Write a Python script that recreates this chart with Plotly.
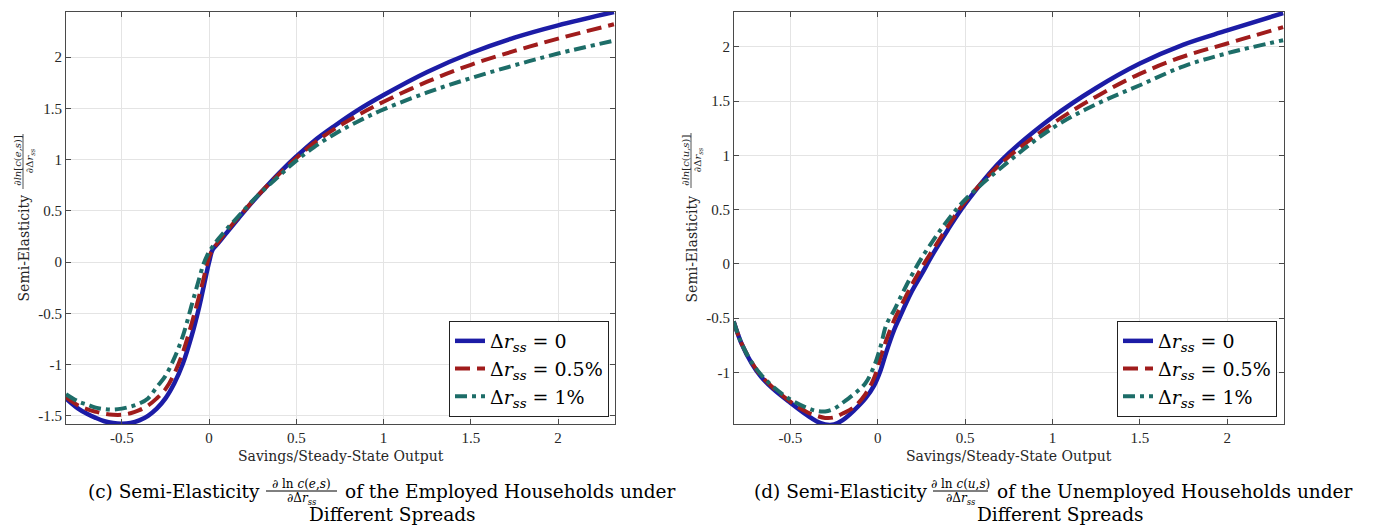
import plotly.graph_objects as go

W, H = 1373, 525

# ---------------- data: panel (c) employed ----------------
x_emp = [-0.82, -0.75, -0.70, -0.65, -0.60, -0.55, -0.50, -0.45, -0.40, -0.35,
         -0.30, -0.25, -0.20, -0.15, -0.10, -0.06, -0.03, 0.0, 0.02, 0.05,
         0.10, 0.17, 0.25, 0.33, 0.42, 0.50, 0.60, 0.72, 0.85, 1.00, 1.25,
         1.50, 1.75, 2.00, 2.32]
emp_r0 = [-1.33, -1.43, -1.48, -1.52, -1.553, -1.571, -1.577, -1.57, -1.545, -1.50,
          -1.43, -1.33, -1.185, -0.99, -0.72, -0.46, -0.23, 0.0, 0.12, 0.18,
          0.285, 0.43, 0.59, 0.74, 0.90, 1.03, 1.18, 1.33, 1.48, 1.63, 1.855,
          2.04, 2.19, 2.31, 2.44]
emp_r05 = [-1.32, -1.40, -1.435, -1.46, -1.48, -1.49, -1.49, -1.475, -1.445, -1.40,
           -1.33, -1.24, -1.09, -0.88, -0.60, -0.35, -0.15, 0.05, 0.12, 0.19,
           0.30, 0.44, 0.595, 0.74, 0.89, 1.015, 1.16, 1.30, 1.43, 1.565, 1.76,
           1.925, 2.06, 2.18, 2.32]
emp_r1 = [-1.29, -1.36, -1.39, -1.42, -1.435, -1.44, -1.43, -1.41, -1.38, -1.33,
          -1.22, -1.11, -0.94, -0.72, -0.42, -0.18, -0.01, 0.10, 0.15, 0.22,
          0.32, 0.45, 0.60, 0.73, 0.87, 0.99, 1.12, 1.25, 1.37, 1.49, 1.655,
          1.795, 1.92, 2.035, 2.16]

# ---------------- data: panel (d) unemployed ----------------
x_une = [-0.824, -0.78, -0.72, -0.668, -0.60, -0.50, -0.40, -0.35, -0.30, -0.25,
         -0.20, -0.135, -0.07, -0.02, 0.017, 0.05, 0.094, 0.124, 0.19, 0.25,
         0.32, 0.40, 0.50, 0.71, 1.00, 1.25, 1.50, 1.75, 2.00, 2.32]
une_r0 = [-0.53, -0.73, -0.92, -1.04, -1.15, -1.28, -1.40, -1.45, -1.48, -1.48,
          -1.44, -1.35, -1.24, -1.12, -0.98, -0.81, -0.61, -0.50, -0.27, -0.10,
          0.10, 0.31, 0.55, 0.955, 1.35, 1.62, 1.845, 2.02, 2.15, 2.31]
une_r05 = [-0.53, -0.73, -0.91, -1.03, -1.14, -1.27, -1.37, -1.40, -1.42, -1.415,
           -1.38, -1.32, -1.20, -1.05, -0.86, -0.70, -0.52, -0.42, -0.21, -0.04,
           0.14, 0.34, 0.57, 0.93, 1.29, 1.54, 1.75, 1.91, 2.03, 2.18]
une_r1 = [-0.53, -0.73, -0.91, -1.02, -1.13, -1.25, -1.33, -1.355, -1.36, -1.335,
          -1.28, -1.20, -1.10, -0.94, -0.76, -0.56, -0.43, -0.33, -0.12, 0.05,
          0.22, 0.40, 0.59, 0.89, 1.25, 1.47, 1.645, 1.82, 1.94, 2.06]

series_names = ["Δ<i>r</i><sub><i>ss</i></sub> = 0",
                "Δ<i>r</i><sub><i>ss</i></sub> = 0.5%",
                "Δ<i>r</i><sub><i>ss</i></sub> = 1%"]

x_ticks = [-0.5, 0, 0.5, 1, 1.5, 2]
x_ticktext = ["-0.5", "0", "0.5", "1", "1.5", "2"]
y_ticks_emp = [-1.5, -1, -0.5, 0, 0.5, 1, 1.5, 2]
y_ticktext_emp = ["-1.5", "-1", "-0.5", "0", "0.5", "1", "1.5", "2"]
y_ticks_une = [-1, -0.5, 0, 0.5, 1, 1.5, 2]
y_ticktext_une = ["-1", "-0.5", "0", "0.5", "1", "1.5", "2"]

x_label = "Savings/Steady-State Output"

colors = ["#1c1ca6", "#a01c1c", "#1d6d68"]
dashes = ["solid", "15px,7px", "12px,5px,4px,5px"]
widths = [4.5, 4, 4]

TICKFONT = "Liberation Serif, serif"
FONT = "DejaVu Serif, serif"


def px(v):
    return v / W


def py(v):
    return 1 - v / H


fig = go.Figure()

for ys, nm, c, d, w in zip([emp_r0, emp_r05, emp_r1], series_names, colors, dashes, widths):
    fig.add_trace(go.Scatter(x=x_emp, y=ys, mode="lines", name=nm,
                             line=dict(color=c, dash=d, width=w, shape="spline", smoothing=1.0),
                             xaxis="x", yaxis="y", legend="legend"))
for ys, nm, c, d, w in zip([une_r0, une_r05, une_r1], series_names, colors, dashes, widths):
    fig.add_trace(go.Scatter(x=x_une, y=ys, mode="lines", name=nm,
                             line=dict(color=c, dash=d, width=w, shape="spline", smoothing=1.0),
                             xaxis="x2", yaxis="y2", legend="legend2"))

axis_common = dict(showgrid=True, gridcolor="#e4e4e4", gridwidth=1,
                   showline=True, linecolor="#4a4a4a", linewidth=1, mirror="ticks",
                   ticks="inside", ticklen=5, tickcolor="#4a4a4a",
                   tickfont=dict(family=TICKFONT, size=15, color="#262626"),
                   zeroline=False, fixedrange=True)

ydom = [py(424), py(12)]
legend_common = dict(yanchor="bottom", xanchor="right", y=py(417),
                     bgcolor="white", bordercolor="#222", borderwidth=1,
                     font=dict(family=FONT, size=19, color="black"),
                     tracegroupgap=0, itemwidth=30)
fig.update_layout(
    width=W, height=H, autosize=False,
    margin=dict(l=0, r=0, t=0, b=0),
    paper_bgcolor="white", plot_bgcolor="white",
    showlegend=True,
    xaxis=dict(domain=[px(66), px(615)], range=[-0.82, 2.326], anchor="y",
               tickvals=x_ticks, ticktext=x_ticktext, **axis_common),
    yaxis=dict(domain=ydom, range=[-1.58, 2.44], anchor="x",
               tickvals=y_ticks_emp, ticktext=y_ticktext_emp, **axis_common),
    xaxis2=dict(domain=[px(734), px(1284)], range=[-0.822, 2.325], anchor="y2",
                tickvals=x_ticks, ticktext=x_ticktext, **axis_common),
    yaxis2=dict(domain=ydom, range=[-1.476, 2.32], anchor="x2",
                tickvals=y_ticks_une, ticktext=y_ticktext_une, **axis_common),
    legend=dict(x=px(609), **legend_common),
    legend2=dict(x=px(1277), **legend_common),
)

ann = []
shapes = []


def text(x, y, s, size, xanchor="center", angle=0, color="black", family=FONT):
    ann.append(dict(x=px(x), y=py(y), xref="paper", yref="paper", text=s,
                    showarrow=False, xanchor=xanchor, yanchor="middle",
                    textangle=angle, borderpad=0,
                    font=dict(family=family, size=size, color=color)))


def hbar(x0, x1, y):
    shapes.append(dict(type="line", xref="paper", yref="paper",
                       x0=px(x0), x1=px(x1), y0=py(y), y1=py(y),
                       line=dict(color="black", width=1)))


def vbar(x, y0, y1):
    shapes.append(dict(type="line", xref="paper", yref="paper",
                       x0=px(x), x1=px(x), y0=py(y0), y1=py(y1),
                       line=dict(color="#262626", width=0.8)))


# x-axis titles
text(340.5, 456, x_label, 14, color="#262626")
text(1009, 456, x_label, 14, color="#262626")

# y-axis titles (rotated)
text(23.5, 248, "Semi-Elasticity", 14, angle=-90, color="#262626")
text(16.5, 161, "∂<i>ln</i>[<i>c</i>(<i>e</i>,<i>s</i>)]", 10, angle=-90, color="#262626")
text(30, 161, "∂Δ<i>r</i><sub><i>ss</i></sub>", 10, angle=-90, color="#262626")
vbar(23, 134, 189)

text(691.5, 249, "Semi-Elasticity", 14, angle=-90, color="#262626")
text(684.5, 160, "∂<i>ln</i>[<i>c</i>(<i>u</i>,<i>s</i>)]", 10, angle=-90, color="#262626")
text(698, 160, "∂Δ<i>r</i><sub><i>ss</i></sub>", 10, angle=-90, color="#262626")
vbar(691, 133, 188)

# captions
CAP = 18.5
text(261, 491, "(c) Semi-Elasticity", CAP, xanchor="right")
text(301.5, 484, "∂ ln <i>c</i>(<i>e</i>,<i>s</i>)", 12)
text(301.5, 499, "∂Δ<i>r</i><sub><i>ss</i></sub>", 12)
hbar(266, 337, 491)
text(344, 491, "of the Employed Households under", CAP, xanchor="left")
text(392, 514, "Different Spreads", CAP)

text(928, 491, "(d) Semi-Elasticity", CAP, xanchor="right")
text(960.5, 484, "∂ ln <i>c</i>(<i>u</i>,<i>s</i>)", 12)
text(960.5, 499, "∂Δ<i>r</i><sub><i>ss</i></sub>", 12)
hbar(933, 988, 491)
text(996, 491, "of the Unemployed Households under", CAP, xanchor="left")
text(1060, 514, "Different Spreads", CAP)

fig.update_layout(annotations=ann, shapes=shapes)

fig.write_html("out.html")
